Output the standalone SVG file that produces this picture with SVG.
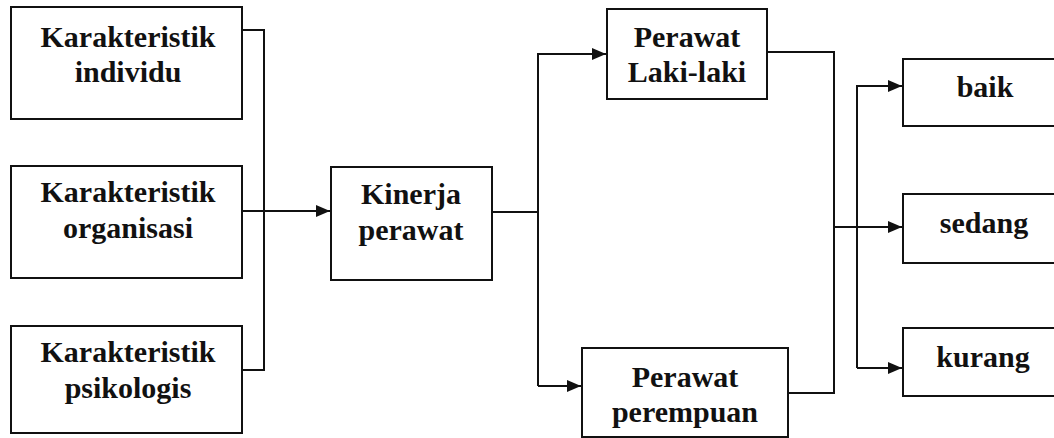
<svg xmlns="http://www.w3.org/2000/svg" width="1054" height="438" viewBox="0 0 1054 438">
<style>
.box{fill:#fff;stroke:#111;stroke-width:2}
.t{font-family:"Liberation Serif","Times New Roman",serif;font-weight:bold;font-size:30px;fill:#111;text-anchor:middle}
.c{fill:none;stroke:#111;stroke-width:2}
</style>
<defs>
<marker id="arr" markerUnits="userSpaceOnUse" markerWidth="14" markerHeight="12" refX="14" refY="6" orient="auto">
<path d="M0,0 L14,6 L0,12 Z" fill="#111"/>
</marker>
</defs>
<rect width="1054" height="438" fill="#fff"/>
<g id="n-individu"><rect class="box" x="11" y="7" width="231" height="112"/><text class="t" x="128" y="47">Karakteristik</text><text class="t" x="128" y="82">individu</text></g>
<g id="n-organisasi"><rect class="box" x="11" y="166" width="231" height="112"/><text class="t" x="128" y="202">Karakteristik</text><text class="t" x="128" y="238">organisasi</text></g>
<g id="n-psikologis"><rect class="box" x="11" y="326" width="231" height="107"/><text class="t" x="128" y="362">Karakteristik</text><text class="t" x="128" y="398">psikologis</text></g>
<g id="n-kinerja"><rect class="box" x="331" y="167" width="161" height="113"/><text class="t" x="411" y="204">Kinerja</text><text class="t" x="411" y="240">perawat</text></g>
<g id="n-laki"><rect class="box" x="607" y="9" width="160" height="90"/><text class="t" x="687" y="47">Perawat</text><text class="t" x="687" y="82">Laki-laki</text></g>
<g id="n-perempuan"><rect class="box" x="582" y="348" width="206" height="89"/><text class="t" x="685" y="387">Perawat</text><text class="t" x="685" y="422">perempuan</text></g>
<g id="n-baik"><rect class="box" x="903" y="59" width="160" height="67"/><text class="t" x="985" y="97">baik</text></g>
<g id="n-sedang"><rect class="box" x="903" y="194" width="160" height="69"/><text class="t" x="984" y="233">sedang</text></g>
<g id="n-kurang"><rect class="box" x="903" y="328" width="160" height="68"/><text class="t" x="983" y="367">kurang</text></g>
<g id="connectors">
<path class="c" d="M242,30 H264 V370 H242"/>
<path class="c" d="M242,211 H330" marker-end="url(#arr)"/>
<path class="c" d="M492,212 H538"/>
<path class="c" d="M538,386 V54 H606" marker-end="url(#arr)"/>
<path class="c" d="M538,386 H581" marker-end="url(#arr)"/>
<path class="c" d="M767,52 H834 V393 H788"/>
<path class="c" d="M834,227 H902" marker-end="url(#arr)"/>
<path class="c" d="M857,368 V86 H902" marker-end="url(#arr)"/>
<path class="c" d="M857,368 H902" marker-end="url(#arr)"/>
</g>
</svg>
